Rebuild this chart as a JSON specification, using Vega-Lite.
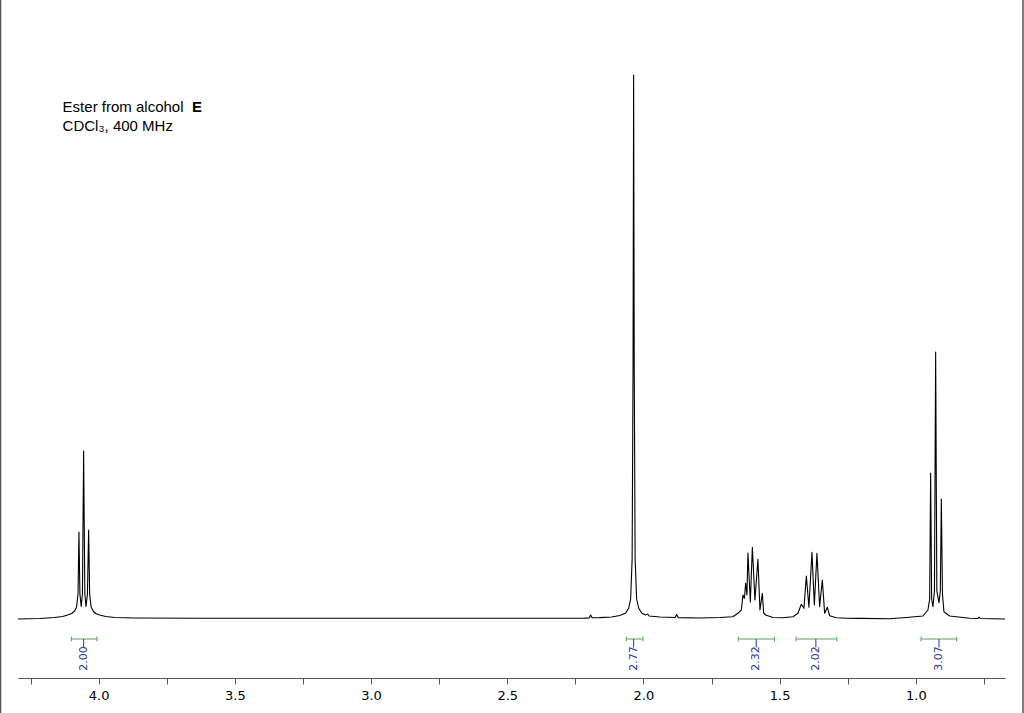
{
  "$schema": "https://vega.github.io/schema/vega-lite/v6.json",
  "width": 987,
  "height": 678,
  "autosize": {"type": "none"},
  "padding": {"left": 18, "right": 19, "top": 0, "bottom": 35},
  "background": "white",
  "config": {"view": {"stroke": null}},
  "datasets": {
    "spectrum": [
      {"ppm": 4.296, "i": 0}, {"ppm": 4.217, "i": 0.5}, {"ppm": 4.162, "i": 1.5}, {"ppm": 4.132, "i": 2.5},
      {"ppm": 4.114, "i": 4}, {"ppm": 4.099, "i": 5.5}, {"ppm": 4.088, "i": 8}, {"ppm": 4.081, "i": 12},
      {"ppm": 4.0756, "i": 25}, {"ppm": 4.0723, "i": 87}, {"ppm": 4.0687, "i": 25}, {"ppm": 4.0639, "i": 12.5},
      {"ppm": 4.0595, "i": 25}, {"ppm": 4.0551, "i": 168}, {"ppm": 4.0507, "i": 25}, {"ppm": 4.0463, "i": 12.5},
      {"ppm": 4.0411, "i": 25}, {"ppm": 4.0367, "i": 89}, {"ppm": 4.033, "i": 25}, {"ppm": 4.0275, "i": 12},
      {"ppm": 4.0202, "i": 8}, {"ppm": 4.011, "i": 5.5}, {"ppm": 3.9963, "i": 4}, {"ppm": 3.974, "i": 2.5},
      {"ppm": 3.941, "i": 1.5}, {"ppm": 3.868, "i": 1.0}, {"ppm": 3.63, "i": 0.8}, {"ppm": 3.2, "i": 0.8},
      {"ppm": 2.8, "i": 0.8}, {"ppm": 2.4, "i": 0.8}, {"ppm": 2.3076, "i": 0.8}, {"ppm": 2.216, "i": 0.9},
      {"ppm": 2.1993, "i": 1.1}, {"ppm": 2.1938, "i": 4}, {"ppm": 2.1883, "i": 1.2}, {"ppm": 2.161, "i": 1.4},
      {"ppm": 2.1167, "i": 2}, {"ppm": 2.087, "i": 3.5}, {"ppm": 2.065, "i": 6}, {"ppm": 2.054, "i": 11},
      {"ppm": 2.047, "i": 20}, {"ppm": 2.0415, "i": 60}, {"ppm": 2.0382, "i": 250}, {"ppm": 2.036, "i": 544},
      {"ppm": 2.0338, "i": 250}, {"ppm": 2.0305, "i": 60}, {"ppm": 2.025, "i": 20}, {"ppm": 2.0176, "i": 11},
      {"ppm": 2.0066, "i": 6}, {"ppm": 1.992, "i": 4}, {"ppm": 1.9846, "i": 5}, {"ppm": 1.979, "i": 3},
      {"ppm": 1.94, "i": 2}, {"ppm": 1.8836, "i": 1.5}, {"ppm": 1.878, "i": 4.5}, {"ppm": 1.8726, "i": 1.4},
      {"ppm": 1.794, "i": 1.0}, {"ppm": 1.72, "i": 1.5}, {"ppm": 1.6717, "i": 2.3}, {"ppm": 1.6533, "i": 5.7},
      {"ppm": 1.6406, "i": 9}, {"ppm": 1.6347, "i": 24}, {"ppm": 1.6292, "i": 20.7}, {"ppm": 1.6248, "i": 36},
      {"ppm": 1.62, "i": 24}, {"ppm": 1.6164, "i": 66}, {"ppm": 1.6076, "i": 17}, {"ppm": 1.6002, "i": 71.7},
      {"ppm": 1.5907, "i": 19}, {"ppm": 1.5797, "i": 59.7}, {"ppm": 1.5723, "i": 9}, {"ppm": 1.5635, "i": 25.7},
      {"ppm": 1.5587, "i": 6}, {"ppm": 1.5514, "i": 4}, {"ppm": 1.5246, "i": 1.5}, {"ppm": 1.49, "i": 1.3},
      {"ppm": 1.4512, "i": 2.3}, {"ppm": 1.4328, "i": 5.7}, {"ppm": 1.4204, "i": 14.7}, {"ppm": 1.4108, "i": 10.7},
      {"ppm": 1.402, "i": 43}, {"ppm": 1.3925, "i": 11.7}, {"ppm": 1.3814, "i": 66.7}, {"ppm": 1.3726, "i": 14},
      {"ppm": 1.3631, "i": 65.7}, {"ppm": 1.3532, "i": 12.3}, {"ppm": 1.3433, "i": 39}, {"ppm": 1.3348, "i": 5.7},
      {"ppm": 1.3249, "i": 11.7}, {"ppm": 1.3165, "i": 3.3}, {"ppm": 1.2919, "i": 1.3}, {"ppm": 1.2552, "i": 0.8},
      {"ppm": 1.2, "i": 0.6}, {"ppm": 1.0962, "i": 0.3}, {"ppm": 1.0349, "i": 1.5}, {"ppm": 0.9739, "i": 3},
      {"ppm": 0.9556, "i": 9}, {"ppm": 0.9493, "i": 20}, {"ppm": 0.9457, "i": 146}, {"ppm": 0.942, "i": 20},
      {"ppm": 0.9372, "i": 12.3}, {"ppm": 0.9317, "i": 28}, {"ppm": 0.9273, "i": 267}, {"ppm": 0.9229, "i": 28},
      {"ppm": 0.9152, "i": 16.3}, {"ppm": 0.9101, "i": 28}, {"ppm": 0.9064, "i": 120}, {"ppm": 0.9023, "i": 25},
      {"ppm": 0.8968, "i": 7.3}, {"ppm": 0.8759, "i": 3}, {"ppm": 0.8025, "i": 0.7}, {"ppm": 0.772, "i": 0.5},
      {"ppm": 0.768, "i": 2}, {"ppm": 0.764, "i": 0.5}, {"ppm": 0.6727, "i": 0}
    ],
    "integrals": [
      {"from": 4.1, "to": 4.006, "c": 4.055, "v": "2.00"},
      {"from": 2.063, "to": 2.002, "c": 2.036, "v": "2.77"},
      {"from": 1.652, "to": 1.519, "c": 1.586, "v": "2.32"},
      {"from": 1.44, "to": 1.29, "c": 1.367, "v": "2.02"},
      {"from": 0.981, "to": 0.85, "c": 0.915, "v": "3.07"}
    ],
    "notes": [
      {"x": 4.1322, "y": 507, "t": "Ester from alcohol", "w": "normal"},
      {"x": 3.6568, "y": 507, "t": "E", "w": "bold"},
      {"x": 4.1322, "y": 488, "t": "CDCl₃, 400 MHz", "w": "normal"}
    ],
    "borders": [{"b": 4.3602}, {"b": 0.6066}]
  },
  "layer": [
    {
      "data": {"name": "spectrum"},
      "mark": {"type": "line", "color": "#000000", "strokeWidth": 1.1, "strokeJoin": "round"},
      "encoding": {
        "x": {
          "field": "ppm", "type": "quantitative", "title": null,
          "scale": {"domain": [0.6727, 4.296], "reverse": true, "nice": false, "zero": false},
          "axis": {
            "values": [0.75, 1.0, 1.25, 1.5, 1.75, 2.0, 2.25, 2.5, 2.75, 3.0, 3.25, 3.5, 3.75, 4.0, 4.25],
            "format": ".1f",
            "labelExpr": "(datum.value * 2) % 1 == 0 ? datum.label : ''",
            "grid": false,
            "domainColor": "#555555",
            "tickColor": "#555555",
            "tickSize": 6,
            "labelPadding": 5,
            "labelFont": "DejaVu Sans",
            "labelFontSize": 13,
            "labelColor": "#000000",
            "labelFlush": false,
            "labelOverlap": false
          }
        },
        "y": {
          "field": "i", "type": "quantitative",
          "scale": {"domain": [-59, 619], "nice": false, "zero": false},
          "axis": null
        }
      }
    },
    {
      "data": {"name": "integrals"},
      "mark": {"type": "rule", "color": "#4caa4c", "strokeWidth": 1},
      "encoding": {
        "x": {"field": "from", "type": "quantitative", "title": null},
        "x2": {"field": "to"},
        "y": {"datum": -20, "type": "quantitative"}
      }
    },
    {
      "data": {"name": "integrals"},
      "mark": {"type": "rule", "color": "#4caa4c", "strokeWidth": 1},
      "encoding": {
        "x": {"field": "from", "type": "quantitative", "title": null},
        "y": {"datum": -22.5, "type": "quantitative"},
        "y2": {"datum": -17.5}
      }
    },
    {
      "data": {"name": "integrals"},
      "mark": {"type": "rule", "color": "#4caa4c", "strokeWidth": 1},
      "encoding": {
        "x": {"field": "to", "type": "quantitative", "title": null},
        "y": {"datum": -22.5, "type": "quantitative"},
        "y2": {"datum": -17.5}
      }
    },
    {
      "data": {"name": "integrals"},
      "mark": {"type": "rule", "color": "#2a35a5", "strokeWidth": 1},
      "encoding": {
        "x": {"field": "c", "type": "quantitative", "title": null},
        "y": {"datum": -20, "type": "quantitative"},
        "y2": {"datum": -28.5}
      }
    },
    {
      "data": {"name": "integrals"},
      "mark": {"type": "text", "color": "#2a35a5", "angle": 270, "align": "center", "baseline": "middle", "font": "DejaVu Sans", "fontSize": 11},
      "encoding": {
        "x": {"field": "c", "type": "quantitative", "title": null},
        "y": {"datum": -39.5, "type": "quantitative"},
        "text": {"field": "v"}
      }
    },
    {
      "data": {"name": "notes"},
      "transform": [{"filter": "datum.w == 'normal'"}],
      "mark": {"type": "text", "color": "#000000", "align": "left", "baseline": "alphabetic", "font": "Liberation Sans", "fontSize": 15},
      "encoding": {
        "x": {"field": "x", "type": "quantitative", "title": null},
        "y": {"field": "y", "type": "quantitative"},
        "text": {"field": "t"}
      }
    },
    {
      "data": {"name": "notes"},
      "transform": [{"filter": "datum.w == 'bold'"}],
      "mark": {"type": "text", "color": "#000000", "align": "left", "baseline": "alphabetic", "font": "Liberation Sans", "fontSize": 15, "fontWeight": "bold"},
      "encoding": {
        "x": {"field": "x", "type": "quantitative", "title": null},
        "y": {"field": "y", "type": "quantitative"},
        "text": {"field": "t"}
      }
    },
    {
      "data": {"name": "borders"},
      "mark": {"type": "rule", "color": "#555555", "strokeWidth": 1.5},
      "encoding": {
        "x": {"field": "b", "type": "quantitative", "title": null},
        "y": {"datum": 619, "type": "quantitative"},
        "y2": {"datum": -94}
      }
    }
  ]
}
